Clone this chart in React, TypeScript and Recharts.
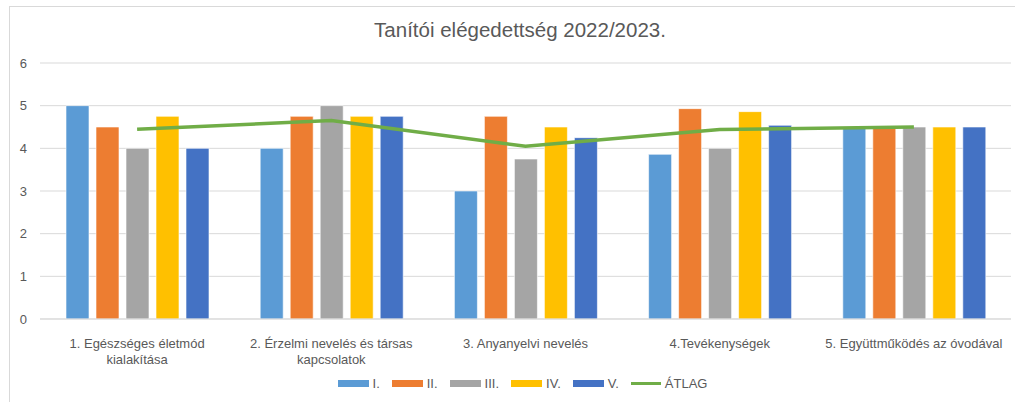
import React from "react";
import { ComposedChart, Bar, Line, XAxis, YAxis, CartesianGrid } from "recharts";

const categories = [
  "1. Egészséges életmód\nkialakítása",
  "2. Érzelmi nevelés és társas\nkapcsolatok",
  "3. Anyanyelvi nevelés",
  "4.Tevékenységek",
  "5. Együttműködés az óvodával",
];

const seriesI = [5, 4, 3, 3.86, 4.5];
const seriesII = [4.5, 4.75, 4.75, 4.93, 4.5];
const seriesIII = [4, 5, 3.75, 4, 4.5];
const seriesIV = [4.75, 4.75, 4.5, 4.86, 4.5];
const seriesV = [4, 4.75, 4.25, 4.54, 4.5];
const atlag = [4.45, 4.65, 4.05, 4.44, 4.5];

const yTicks = [0, 1, 2, 3, 4, 5, 6];

const barSeries = [
  { key: "i", name: "I.", color: "#5B9BD5", values: seriesI },
  { key: "ii", name: "II.", color: "#ED7D31", values: seriesII },
  { key: "iii", name: "III.", color: "#A5A5A5", values: seriesIII },
  { key: "iv", name: "IV.", color: "#FFC000", values: seriesIV },
  { key: "v", name: "V.", color: "#4472C4", values: seriesV },
];

const LINE_COLOR = "#70AD47";
const TEXT_COLOR = "#595959";
const FONT = "'Liberation Sans Narrow', 'Liberation Sans', Arial, sans-serif";

const data = categories.map((name, i) => {
  const row: Record<string, string | number> = { name, atlag: atlag[i] };
  barSeries.forEach((s) => {
    row[s.key] = s.values[i];
  });
  return row;
});

function CategoryTick({ x, y, payload }: { x: number; y: number; payload: { value: string } }) {
  const lines = String(payload.value).split("\n");
  return (
    <text x={x} y={y} textAnchor="middle" fill={TEXT_COLOR} fontSize={13} fontFamily={FONT}>
      {lines.map((line, i) => (
        <tspan key={i} x={x} dy={i === 0 ? 21 : 16}>
          {line}
        </tspan>
      ))}
    </text>
  );
}

function ChartLegend() {
  return (
    <div
      style={{
        position: "absolute",
        top: 376,
        left: 0,
        width: 1015,
        display: "flex",
        justifyContent: "center",
        alignItems: "center",
        fontFamily: FONT,
        fontSize: 13,
        color: TEXT_COLOR,
        paddingLeft: 30,
        boxSizing: "border-box",
      }}
    >
      {barSeries.map((s) => (
        <div key={s.key} style={{ display: "flex", alignItems: "center", marginRight: 12 }}>
          <span style={{ display: "inline-block", width: 31, height: 7, background: s.color, marginRight: 4 }} />
          <span>{s.name}</span>
        </div>
      ))}
      <div style={{ display: "flex", alignItems: "center" }}>
        <span style={{ display: "inline-block", width: 30, height: 3, background: LINE_COLOR, marginRight: 4 }} />
        <span>ÁTLAG</span>
      </div>
    </div>
  );
}

export default function App() {
  return (
    <div
      style={{
        position: "fixed",
        left: 0,
        top: 0,
        width: 1015,
        height: 402,
        background: "#fff",
        overflow: "hidden",
      }}
    >
      <div
        style={{
          position: "absolute",
          left: 9,
          top: 6,
          right: -2,
          bottom: -2,
          borderLeft: "1.5px solid #D9D9D9",
          borderTop: "1.5px solid #D9D9D9",
        }}
      />
      <div
        style={{
          position: "absolute",
          top: 18,
          left: 0,
          width: 1040,
          textAlign: "center",
          fontFamily: FONT,
          fontSize: 20.5,
          color: TEXT_COLOR,
        }}
      >
        Tanítói elégedettség 2022/2023.
      </div>
      <div style={{ position: "absolute", left: 0, top: 0 }}>
        <ComposedChart
          width={1015}
          height={402}
          data={data}
          margin={{ top: 63, right: 4, bottom: 0, left: 0 }}
          barCategoryGap={26}
          barGap={7}
        >
          <CartesianGrid vertical={false} stroke="#D9D9D9" strokeWidth={1} />
          <XAxis
            dataKey="name"
            height={83}
            tick={CategoryTick as any}
            tickLine={false}
            axisLine={{ stroke: "#D9D9D9" }}
            interval={0}
          />
          <YAxis
            width={40}
            domain={[0, 6]}
            ticks={yTicks}
            tickLine={false}
            tickSize={0}
            tickMargin={13}
            axisLine={false}
            tick={{ fill: TEXT_COLOR, fontSize: 13, fontFamily: FONT }}
          />
          {barSeries.map((s) => (
            <Bar
              key={s.key}
              dataKey={s.key}
              name={s.name}
              fill={s.color}
              stroke="#fff"
              strokeWidth={0.6}
              isAnimationActive={false}
            />
          ))}
          <Line
            dataKey="atlag"
            name="ÁTLAG"
            stroke={LINE_COLOR}
            strokeWidth={3.5}
            dot={false}
            activeDot={false}
            isAnimationActive={false}
          />
        </ComposedChart>
      </div>
      <ChartLegend />
    </div>
  );
}
